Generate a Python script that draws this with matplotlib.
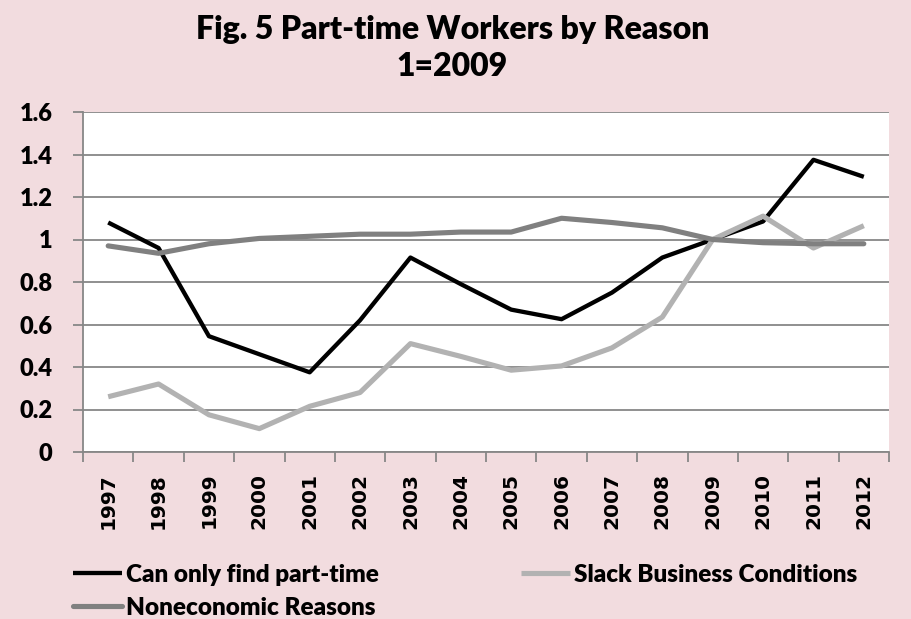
import numpy as np
import matplotlib.pyplot as plt

# --- Data ---
years = ['1997', '1998', '1999', '2000', '2001', '2002', '2003', '2004',
         '2005', '2006', '2007', '2008', '2009', '2010', '2011', '2012']
can_only = [1.08, 0.96, 0.545, 0.46, 0.375, 0.62, 0.915, 0.79,
            0.67, 0.625, 0.75, 0.915, 1.0, 1.085, 1.375, 1.295]
slack = [0.26, 0.32, 0.175, 0.11, 0.215, 0.28, 0.51, 0.45,
         0.385, 0.405, 0.49, 0.635, 1.0, 1.11, 0.96, 1.065]
noneconomic = [0.97, 0.935, 0.98, 1.005, 1.015, 1.025, 1.025, 1.035,
               1.035, 1.1, 1.08, 1.055, 1.0, 0.985, 0.98, 0.98]
y_ticks = [0, 0.2, 0.4, 0.6, 0.8, 1, 1.2, 1.4, 1.6]
y_labels = ['0', '0.2', '0.4', '0.6', '0.8', '1', '1.2', '1.4', '1.6']

# --- Style ---
pink = '#F2DCDF'
grid_c = '#878787'
calibri_like = ['Lato', 'DejaVu Sans']
wide_font = ['DejaVu Sans']

fig = plt.figure(figsize=(9.12, 6.19), dpi=100, facecolor=pink)
ax = fig.add_axes([83 / 912, 1 - 452 / 619, 806 / 912, 340 / 619])
ax.set_facecolor('white')

x = np.arange(len(years))
l1, = ax.plot(x, can_only, color='black', lw=3.1, zorder=3, solid_capstyle='butt',
              label='Can only find part-time')
l2, = ax.plot(x, slack, color='#B2B2B2', lw=3.7, zorder=4, solid_capstyle='butt',
              label='Slack Business Conditions')
l3, = ax.plot(x, noneconomic, color='#808080', lw=3.7, zorder=5, solid_capstyle='round',
              label='Noneconomic Reasons')

ax.set_xlim(-0.5, len(years) - 0.5)
ax.set_ylim(0, 1.6)

# gridlines & spines
ax.set_yticks(y_ticks)
ax.set_yticklabels(y_labels, fontfamily=calibri_like, fontweight='heavy', fontsize=17)
ax.yaxis.grid(True, color=grid_c, lw=1.3, zorder=1)
ax.set_axisbelow(True)
for s in ['top', 'right']:
    ax.spines[s].set_visible(False)
for s in ['left', 'bottom']:
    ax.spines[s].set_color(grid_c)
    ax.spines[s].set_linewidth(1.3)
ax.tick_params(axis='y', length=7, width=1.3, color=grid_c, pad=15)

# x ticks between categories, labels centred
ax.set_xticks(np.arange(-0.5, len(years), 1.0))
ax.set_xticklabels([])
ax.set_xticks(x, minor=True)
ax.set_xticklabels(years, minor=True, rotation=90, fontfamily=wide_font,
                   fontweight='bold', fontsize=14.5)
ax.tick_params(axis='x', which='major', length=7, width=1.3, color=grid_c)
ax.tick_params(axis='x', which='minor', length=0, pad=15)

# --- Title ---
fig.text(0.496, 1 - 29 / 619, 'Fig. 5 Part-time Workers by Reason', ha='center', va='center',
         fontsize=23, fontweight='heavy', fontfamily=calibri_like)
fig.text(0.496, 1 - 67 / 619, '1=2009', ha='center', va='center',
         fontsize=23, fontweight='heavy', fontfamily=calibri_like)

# --- Legend ---
leg_kw = dict(frameon=False, loc='upper left', borderpad=0, borderaxespad=0,
              handlelength=2.0, handletextpad=0.2, labelspacing=0.45,
              prop={'family': calibri_like, 'weight': 'heavy', 'size': 17.5})
fig.legend(handles=[l1, l3], bbox_to_anchor=(73 / 912, 1 - 564 / 619), **leg_kw)
fig.legend(handles=[l2], bbox_to_anchor=(521 / 912, 1 - 564 / 619), **leg_kw)

fig.savefig('out.png', dpi=100, facecolor=pink)
